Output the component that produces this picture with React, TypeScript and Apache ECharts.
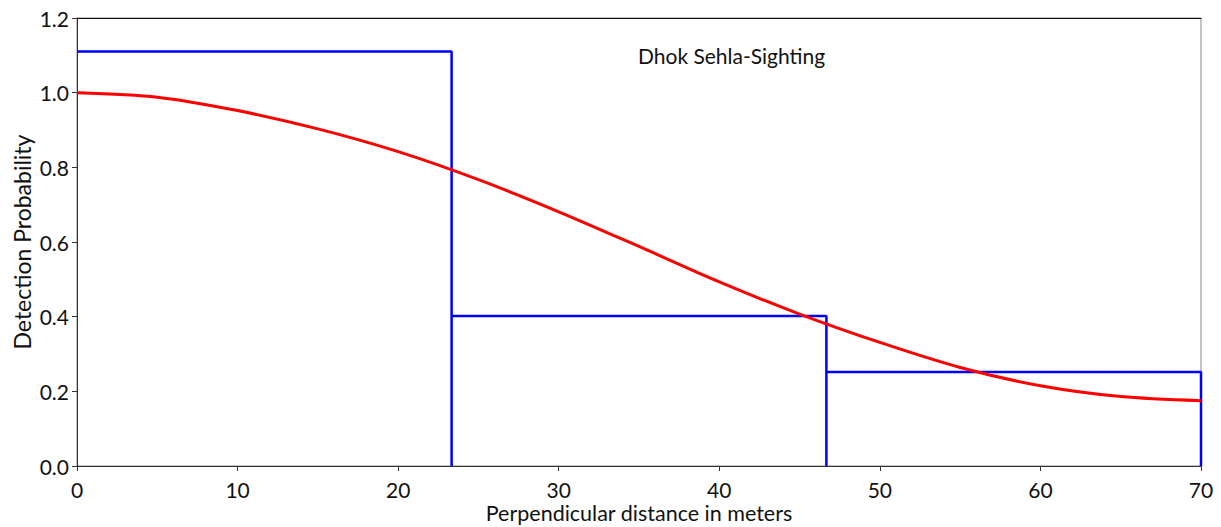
import React, { useEffect, useRef } from "react";
import * as echarts from "echarts";

const xTicks = [0, 10, 20, 30, 40, 50, 60, 70];
const yTicks = [0, 0.2, 0.4, 0.6, 0.8, 1.0, 1.2];

const binEdges = [0, 23.33, 46.67, 70];
const binHeights = [1.11, 0.402, 0.252];

const curveX = [0, 5, 10, 15, 20, 25, 30, 35, 40, 45, 50, 55, 60, 65, 70];
const curveY = [1.0, 0.988, 0.952, 0.903, 0.842, 0.767, 0.681, 0.588, 0.493, 0.407, 0.331, 0.264, 0.215, 0.186, 0.175];

const titleText = "Dhok Sehla-Sighting";
const xName = "Perpendicular distance in meters";
const yName = "Detection Probability";

const FONT = "Lato";

export default function App() {
  const ref = useRef<HTMLDivElement>(null);
  useEffect(() => {
    if (!ref.current) return;
    const chart = echarts.init(ref.current, null, { renderer: "svg" });

    const histPts: number[][] = [];
    for (let i = 0; i < binHeights.length; i++) {
      const x0 = binEdges[i];
      const x1 = binEdges[i + 1];
      if (i > 0) histPts.push([x0, 0]);
      histPts.push([x0, binHeights[i]]);
      histPts.push([x1, binHeights[i]]);
      histPts.push([x1, 0]);
    }
    const curvePts = curveX.map((x, i) => [x, curveY[i]]);

    chart.setOption({
      animation: false,
      backgroundColor: "#ffffff",
      title: {
        text: titleText,
        left: 633,
        top: 40,
        textStyle: { fontFamily: FONT, fontSize: 21, fontWeight: "normal", color: "#111" },
      },
      grid: {
        left: 77,
        right: 20,
        top: 18,
        bottom: 61,
        containLabel: false,
        outerBoundsMode: "none",
        show: true,
        borderColor: "#888",
        borderWidth: 1,
      },
      xAxis: [
        {
          type: "value",
          min: xTicks[0],
          max: xTicks[xTicks.length - 1],
          interval: 10,
          name: xName,
          nameLocation: "middle",
          nameGap: 36,
          nameMoveOverlap: false,
          nameTextStyle: { fontFamily: FONT, fontSize: 21.5, color: "#111", lineHeight: 22 },
          axisLine: { show: true, lineStyle: { color: "#333", width: 1 } },
          axisTick: { show: true, length: 5, lineStyle: { color: "#333" } },
          axisLabel: { fontFamily: FONT, fontSize: 21, color: "#111", margin: 13 },
          splitLine: { show: false },
        },
        {
          type: "value",
          position: "top",
          min: xTicks[0],
          max: xTicks[xTicks.length - 1],
          axisLine: { show: true, lineStyle: { color: "#111", width: 1 } },
          axisTick: { show: false },
          axisLabel: { show: false },
          splitLine: { show: false },
        },
      ],
      yAxis: {
        type: "value",
        min: yTicks[0],
        max: yTicks[yTicks.length - 1],
        interval: 0.2,
        name: yName,
        nameLocation: "middle",
        nameGap: 44,
        nameMoveOverlap: false,
        nameRotate: 90,
        nameTextStyle: { fontFamily: FONT, fontSize: 23, color: "#111" },
        axisLine: { show: true, lineStyle: { color: "#333", width: 1 } },
        axisTick: { show: true, length: 5, lineStyle: { color: "#333" } },
        axisLabel: {
          fontFamily: FONT,
          fontSize: 21,
          color: "#111",
          margin: 8,
          formatter: (v: number) => v.toFixed(1),
        },
        splitLine: { show: false },
      },
      series: [
        {
          type: "line",
          data: histPts,
          symbol: "none",
          lineStyle: { color: "#0000ff", width: 2.5 },
          z: 2,
        },
        {
          type: "line",
          data: curvePts,
          symbol: "none",
          smooth: 0.3,
          lineStyle: { color: "#ff0000", width: 3 },
          z: 3,
        },
      ],
    });
    return () => chart.dispose();
  }, []);
  return (
    <div
      ref={ref}
      style={{ position: "fixed", left: 0, top: 0, width: 1221, height: 527 }}
    />
  );
}
